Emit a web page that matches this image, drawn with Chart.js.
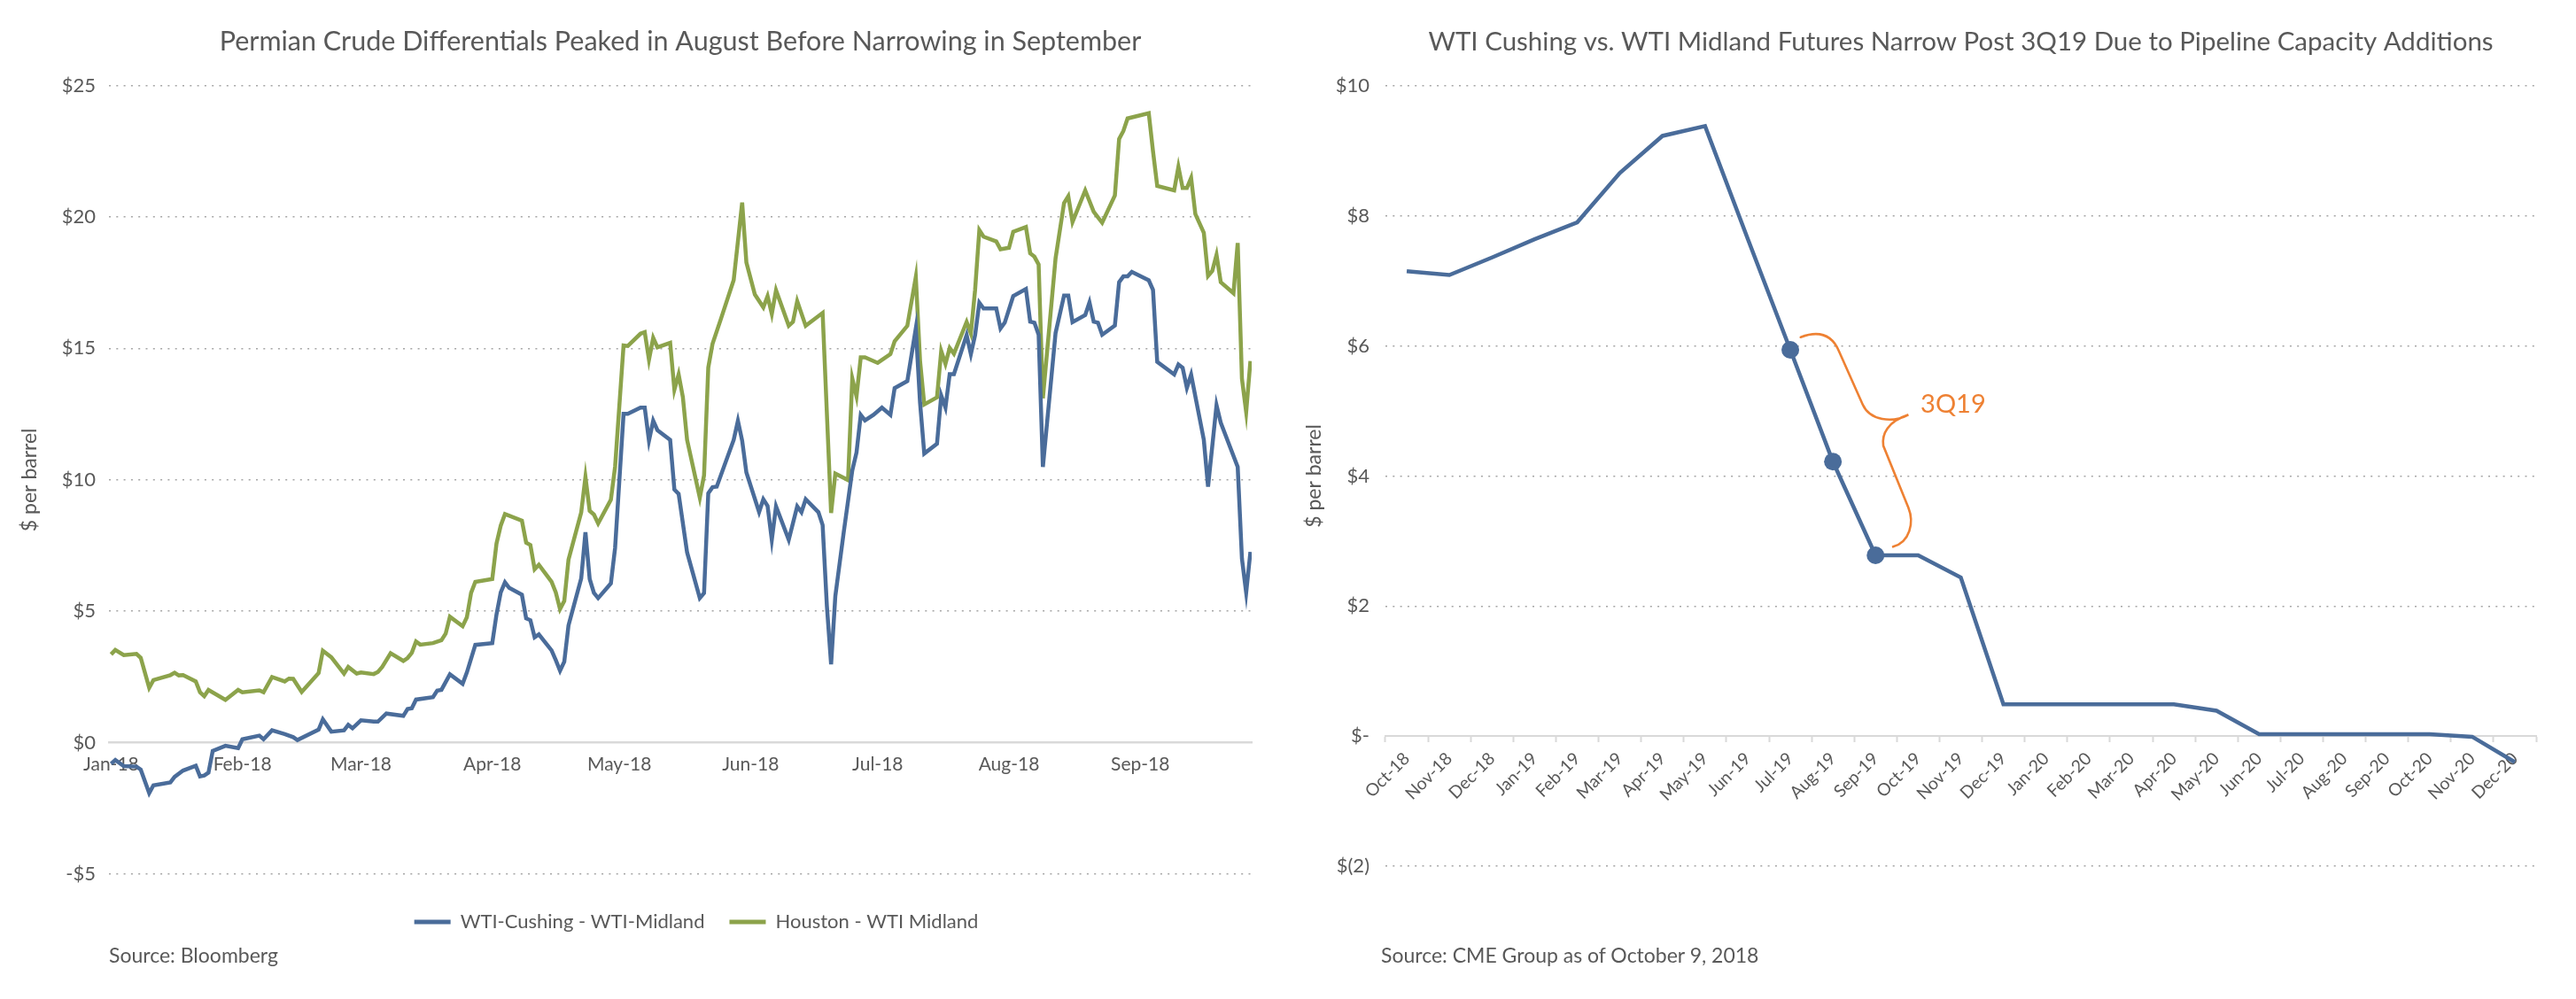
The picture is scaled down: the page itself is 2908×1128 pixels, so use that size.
<!DOCTYPE html>
<html>
<head>
<meta charset="utf-8">
<script src="https://cdn.jsdelivr.net/npm/chart.js@4.4.1/dist/chart.umd.min.js"></script>
<style>
  body { margin: 0; width: 2908px; height: 1128px; background: #fff; overflow: hidden; position: relative; font-family: Lato, sans-serif; }
  .panel { position: absolute; top: 0; width: 1450px; height: 1128px; }
  #leftPanel { left: 0; }
  #rightPanel { left: 1450px; width: 1458px; }
  .source { position: absolute; font-size: 23px; color: #595959; top: 1064px; }
</style>
</head>
<body>
<div class="panel" id="leftPanel"><canvas id="diffChart" width="1450" height="1128"></canvas></div>
<div class="panel" id="rightPanel"><canvas id="futuresChart" width="1458" height="1128"></canvas></div>
<div class="source" style="left:123px">Source: Bloomberg</div>
<div class="source" style="left:1559px">Source: CME Group as of October 9, 2018</div>
<script>
// Left chart: daily differentials, x = days since Jan 1 2018
const monthStarts = [0, 31, 59, 90, 120, 151, 181, 212, 243];
const monthLabels = ["Jan-18", "Feb-18", "Mar-18", "Apr-18", "May-18", "Jun-18", "Jul-18", "Aug-18", "Sep-18"];

const cushingDays = [0,1,3,6,7,9,10,14,15,17,20,21,22,23,24,27,30,31,35,36,38,41,43,44,49,50,52,55,56,57,59,62,63,65,69,70,71,72,76,77,78,80,83,84,86,90,91,92,93,94,97,98,99,100,101,104,105,106,107,108,111,112,113,114,115,118,119,121,122,125,126,127,128,129,132,133,134,136,139,140,141,142,143,147,148,149,150,153,154,155,156,157,160,162,163,164,167,168,169,170,171,173,175,176,177,178,180,182,184,185,188,190,191,192,195,196,197,198,199,202,203,204,205,206,209,210,211,213,216,217,218,219,220,223,225,226,227,230,231,232,233,234,237,238,239,240,241,245,246,247,251,252,253,254,255,258,259,261,262,266,267,268,269];
const cushingValues = [-0.80,-0.66,-0.89,-0.91,-1.02,-1.92,-1.62,-1.51,-1.30,-1.06,-0.88,-1.28,-1.25,-1.14,-0.31,-0.12,-0.21,0.13,0.27,0.13,0.47,0.33,0.21,0.10,0.50,0.89,0.42,0.47,0.68,0.55,0.85,0.80,0.80,1.11,1.02,1.28,1.31,1.64,1.73,1.98,2.01,2.60,2.24,2.67,3.72,3.79,4.88,5.72,6.10,5.89,5.63,4.73,4.66,4.01,4.12,3.51,3.14,2.74,3.08,4.46,6.25,8.01,6.23,5.70,5.50,6.06,7.41,12.51,12.51,12.75,12.75,11.49,12.25,11.89,11.52,9.63,9.47,7.24,5.50,5.69,9.49,9.72,9.74,11.52,12.25,11.49,10.28,8.77,9.26,9.01,7.72,8.99,7.72,8.99,8.77,9.26,8.77,8.28,5.21,2.98,5.58,8.03,10.36,11.04,12.47,12.26,12.47,12.75,12.47,13.49,13.76,15.76,12.94,11.00,11.37,13.21,12.75,14.02,14.02,15.51,14.78,15.51,16.74,16.52,16.52,15.76,15.98,16.99,17.26,16.02,15.98,15.52,10.49,15.59,17.01,17.01,16.00,16.27,16.75,16.02,15.98,15.52,15.87,17.52,17.74,17.74,17.91,17.59,17.23,14.49,14.01,14.39,14.26,13.50,14.00,11.52,9.74,12.84,12.17,10.49,7.00,5.71,7.26];

const houstonDays = [0,1,3,6,7,9,10,14,15,16,17,20,21,22,23,27,30,31,35,36,38,41,42,43,45,49,50,52,55,56,58,59,62,63,64,66,69,70,71,72,73,76,78,79,80,83,84,85,86,90,91,92,93,97,98,99,100,101,104,105,106,107,108,111,112,113,114,115,118,119,121,122,125,126,127,128,129,132,133,134,135,136,139,140,141,142,144,147,149,150,152,154,155,156,157,160,161,162,164,168,170,171,174,175,176,177,178,181,184,185,188,190,191,192,195,196,197,198,199,202,203,204,205,206,209,210,212,213,216,217,218,219,220,223,225,226,227,230,232,234,237,238,239,240,245,246,247,251,252,253,254,255,256,258,259,260,261,262,265,266,267,268,269];
const houstonValues = [3.36,3.53,3.33,3.38,3.23,2.09,2.38,2.57,2.66,2.56,2.57,2.33,1.92,1.77,2.01,1.63,2.01,1.92,1.99,1.92,2.50,2.33,2.44,2.43,1.93,2.65,3.50,3.25,2.63,2.88,2.63,2.67,2.61,2.69,2.88,3.40,3.11,3.22,3.42,3.85,3.73,3.79,3.90,4.15,4.79,4.43,4.77,5.70,6.12,6.23,7.58,8.26,8.70,8.45,7.61,7.52,6.60,6.77,6.12,5.72,5.08,5.39,6.96,8.76,10.11,8.82,8.68,8.34,9.24,10.50,15.11,15.09,15.56,15.62,14.57,15.40,15.04,15.21,13.43,14.01,13.15,11.52,9.32,10.17,14.27,15.17,16.13,17.60,20.55,18.27,17.05,16.56,16.99,16.31,17.21,15.86,16.01,16.80,15.86,16.35,8.74,10.24,9.99,13.86,13.18,14.66,14.66,14.45,14.78,15.27,15.86,17.72,14.53,12.87,13.14,14.90,14.41,15.02,14.80,16.01,15.57,17.23,19.50,19.25,19.07,18.77,18.83,19.44,19.62,18.62,18.49,18.19,13.10,18.43,20.53,20.79,19.81,21.01,20.20,19.78,20.82,22.97,23.27,23.75,23.95,22.50,21.18,21.01,21.91,21.10,21.10,21.49,20.11,19.40,17.76,17.95,18.56,17.52,17.10,19.01,13.85,12.58,14.52];

// Right chart: monthly futures spread
const futuresMonths = ["Oct-18","Nov-18","Dec-18","Jan-19","Feb-19","Mar-19","Apr-19","May-19","Jun-19","Jul-19","Aug-19","Sep-19","Oct-19","Nov-19","Dec-19","Jan-20","Feb-20","Mar-20","Apr-20","May-20","Jun-20","Jul-20","Aug-20","Sep-20","Oct-20","Nov-20","Dec-20"];
const futuresValues = [7.15,7.09,7.36,7.64,7.90,8.66,9.23,9.38,7.65,5.94,4.22,2.78,2.78,2.44,0.49,0.49,0.49,0.49,0.49,0.39,0.03,0.03,0.03,0.03,0.03,-0.01,-0.40];
const highlightMonths = ["Jul-19", "Aug-19", "Sep-19"];

const leftTicks = [-5, 0, 5, 10, 15, 20, 25];
const rightTicks = [-2, 0, 2, 4, 6, 8, 10];

const BLUE = "#4A6C9A";
const GREEN = "#8CA34B";
const ORANGE = "#EE8133";
const TEXT = "#595959";
const FONT = "Lato";

Chart.defaults.font.family = FONT;
Chart.defaults.color = TEXT;
Chart.defaults.animation = false;
Chart.defaults.plugins.tooltip.enabled = false;

function pairs(days, values) {
  return days.map((d, i) => ({ x: d, y: values[i] }));
}

function dottedGrid() {
  return {
    color: ctx => (ctx.tick && ctx.tick.value === 0) ? "rgba(0,0,0,0)" : "#A6A6A6",
    lineWidth: 1.6,
    drawTicks: false
  };
}

// nudge the legend to where the original report puts it
const legendNudge = {
  id: "legendNudge",
  afterLayout(chart) {
    const lg = chart.legend;
    lg.left += 18; lg.right += 18;
    lg.top += 15; lg.bottom += 15;
  }
};

// Left chart
new Chart(document.getElementById("diffChart"), {
  type: "line",
  data: {
    datasets: [
      { label: "WTI-Cushing - WTI-Midland", data: pairs(cushingDays, cushingValues), borderColor: BLUE, backgroundColor: BLUE, borderWidth: 4.5, pointRadius: 0, tension: 0 },
      { label: "Houston - WTI Midland", data: pairs(houstonDays, houstonValues), borderColor: GREEN, backgroundColor: GREEN, borderWidth: 4.5, pointRadius: 0, tension: 0 }
    ]
  },
  options: {
    responsive: false,
    devicePixelRatio: 1,
    layout: { padding: { top: 0, right: 37, bottom: 81, left: 0 } },
    plugins: {
      title: { display: true, fullSize: false, text: "Permian Crude Differentials Peaked in August Before Narrowing in September", font: { size: 30.5, weight: "normal" }, color: TEXT, padding: { top: 29, bottom: 31 } },
      legend: {
        position: "bottom",
        fullSize: false,
        labels: {
          boxWidth: 41, boxHeight: 5, padding: 28, color: TEXT, font: { size: 22 },
          generateLabels: chart => chart.data.datasets.map((ds, i) => ({ text: ds.label, fillStyle: ds.borderColor, strokeStyle: ds.borderColor, lineWidth: 0, hidden: false, datasetIndex: i, fontColor: TEXT }))
        }
      }
    },
    scales: {
      x: {
        type: "linear",
        min: -0.5,
        max: 269.3,
        position: { y: 0 },
        afterBuildTicks: axis => { axis.ticks = monthStarts.map(v => ({ value: v })); },
        ticks: { autoSkip: false, maxRotation: 0, padding: 12, font: { size: 21 }, callback: (v, i) => monthLabels[i] },
        grid: { drawOnChartArea: false, drawTicks: false },
        border: { display: true, color: "#D9D9D9", width: 2.5 }
      },
      y: {
        min: -5,
        max: 25,
        afterBuildTicks: axis => { axis.ticks = leftTicks.map(v => ({ value: v })); },
        afterFit: s => { s.width = 123; },
        ticks: { padding: 15, font: { size: 22 }, callback: v => v < 0 ? "-$" + (-v) : "$" + v },
        grid: dottedGrid(),
        border: { display: false, dash: [2, 6.3] },
        title: { display: true, text: "$ per barrel", font: { size: 23 }, color: TEXT, padding: { top: 20, bottom: 0 } }
      }
    }
  },
  plugins: [legendNudge]
});

// Brace annotation next to the highlighted quarter
const bracePlugin = {
  id: "quarterBrace",
  afterDatasetsDraw(chart) {
    const meta = chart.getDatasetMeta(0);
    const p = meta.data[futuresMonths.indexOf(highlightMonths[0])];
    const ctx = chart.ctx;
    ctx.save();
    ctx.translate(p.x, p.y);
    ctx.strokeStyle = ORANGE;
    ctx.lineWidth = 2.6;
    ctx.lineCap = "round";
    ctx.beginPath();
    ctx.moveTo(11.7, -14.3);
    ctx.bezierCurveTo(35, -23, 48, -15, 55, 1.7);
    ctx.lineTo(81.7, 61.7);
    ctx.bezierCurveTo(90, 80, 115, 83, 133.3, 73.3);
    ctx.bezierCurveTo(110, 81, 103, 95, 105, 108.3);
    ctx.lineTo(133.3, 178.3);
    ctx.bezierCurveTo(140, 195, 135, 217, 116, 222.3);
    ctx.stroke();
    ctx.fillStyle = ORANGE;
    ctx.font = "29px " + FONT;
    ctx.textBaseline = "middle";
    ctx.fillText("3Q19", 147, 62);
    ctx.restore();
  }
};

// Right chart
new Chart(document.getElementById("futuresChart"), {
  type: "line",
  data: {
    labels: futuresMonths,
    datasets: [{
      label: "WTI Cushing - WTI Midland",
      data: futuresValues,
      borderColor: BLUE,
      backgroundColor: BLUE,
      borderWidth: 4.5,
      tension: 0,
      pointRadius: ctx => highlightMonths.includes(futuresMonths[ctx.dataIndex]) ? 10 : 0,
      pointBackgroundColor: BLUE,
      pointBorderWidth: 0
    }]
  },
  options: {
    responsive: false,
    devicePixelRatio: 1,
    layout: { padding: { top: 0, right: 45, bottom: 150, left: 0 } },
    plugins: {
      legend: { display: false },
      title: { display: true, fullSize: false, text: "WTI Cushing vs. WTI Midland Futures Narrow Post 3Q19 Due to Pipeline Capacity Additions", font: { size: 29.5, weight: "normal" }, color: TEXT, padding: { top: 29.5, bottom: 32 } }
    },
    scales: {
      x: {
        type: "category",
        offset: true,
        position: { y: 0 },
        ticks: { autoSkip: false, minRotation: 45, maxRotation: 45, padding: 8, font: { size: 19.5 } },
        grid: { offset: true, drawOnChartArea: false, drawTicks: true, tickLength: 6, tickColor: "#D9D9D9", tickWidth: 2 },
        border: { display: true, color: "#D9D9D9", width: 2 }
      },
      y: {
        min: -2,
        max: 10,
        afterBuildTicks: axis => { axis.ticks = rightTicks.map(v => ({ value: v })); },
        afterFit: s => { s.width = 114; },
        ticks: { padding: 18, font: { size: 22 }, callback: v => v === 0 ? "$-" : (v < 0 ? "$(" + (-v) + ")" : "$" + v) },
        grid: dottedGrid(),
        border: { display: false, dash: [2, 6.3] },
        title: { display: true, text: "$ per barrel", font: { size: 23 }, color: TEXT, padding: { top: 20, bottom: 0 } }
      }
    }
  },
  plugins: [bracePlugin]
});
</script>
</body>
</html>
